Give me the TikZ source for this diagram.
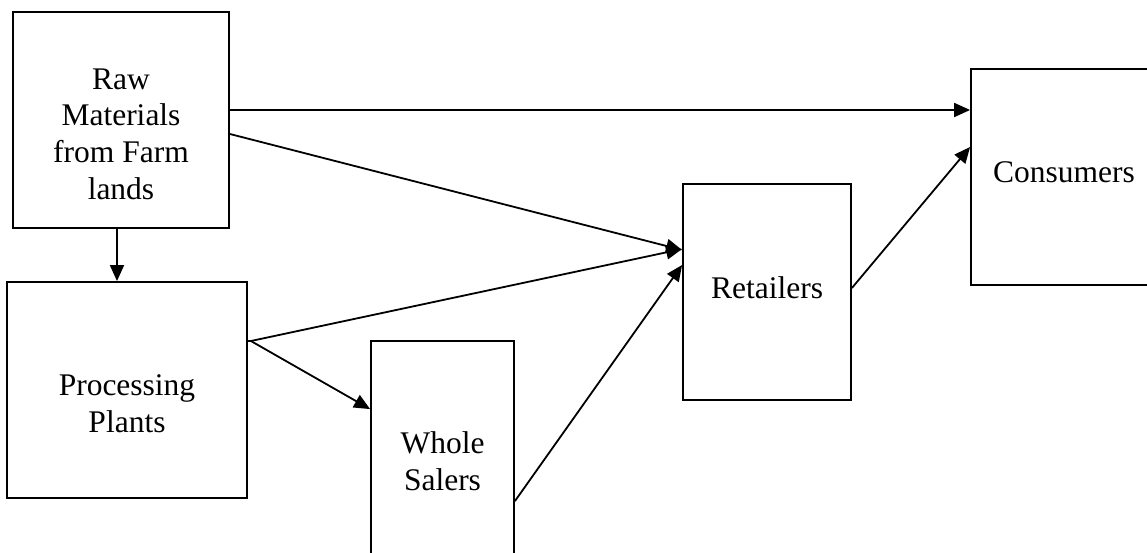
\documentclass[tikz,border=0pt]{standalone}
\usepackage{fontspec}
\setmainfont{Liberation Serif}
\usepackage{xcolor}
\usepackage[]{tikz}
\usetikzlibrary{positioning,calc}
\usetikzlibrary{arrows.meta,arrows}
\tikzstyle{nodeBox}  =[rectangle,draw,line width=1.8pt,inner sep=0pt,minimum height=216pt]
\tikzstyle{nodeText} =[align=center,inner sep=0pt,font=\fontsize{31.5}{36.7}\selectfont]
\tikzstyle{flowArrow}=[line width=1.8pt,-{Triangle[length=16pt,width=14pt]}]

\begin{document}
\begin{tikzpicture}[x=1pt,y=-1pt]
      \useasboundingbox (0,0) rectangle (1147,553);
      \node[nodeBox,minimum width=216pt] (raw) [] at (121,120) {};
      \node[nodeBox,minimum width=240pt] (proc) [] at (127,390) {};
      \node[nodeBox,minimum width=143pt] (whole) [] at (442.5,449) {};
      \node[nodeBox,minimum width=168pt] (retail) [] at (767,292) {};
      \node[nodeBox,minimum width=186pt] (cons) [] at (1064,177) {};
      \node[nodeText] (rawText) at (121,134) {Raw\\Materials\\from Farm\\lands};
      \node[nodeText] (procText) at (127,404) {Processing\\Plants};
      \node[nodeText] (wholeText) at (442.5,461) {Whole\\Salers};
      \node[nodeText,anchor=base] (retailText) at (767,298) {Retailers};
      \node[nodeText,anchor=base] (consText) at (1064,183) {Consumers};
      \coordinate (split) at ([xshift=3pt,yshift=49pt]proc.east);
      \draw[flowArrow] ([yshift=10pt]raw.east) -- ([yshift=10pt]raw.east -| cons.west);
      \draw[flowArrow] ([yshift=-14pt]raw.east) -- ([yshift=42pt]retail.west);
      \draw[flowArrow] ([xshift=-4pt]raw.south) -- ([xshift=-4pt]raw.south |- proc.north);
      \draw[line width=1.8pt] (proc.east |- split) -- (split);
      \draw[flowArrow] (split) -- ([yshift=43pt]retail.west);
      \draw[flowArrow] (split) -- ([yshift=-69pt]whole.north west);
      \draw[flowArrow] ([yshift=-161pt]whole.north east) -- ([yshift=27pt]retail.west);
      \draw[flowArrow] ([yshift=4pt]retail.east) -- ([yshift=30pt]cons.west);
    \end{tikzpicture}
\end{document}
